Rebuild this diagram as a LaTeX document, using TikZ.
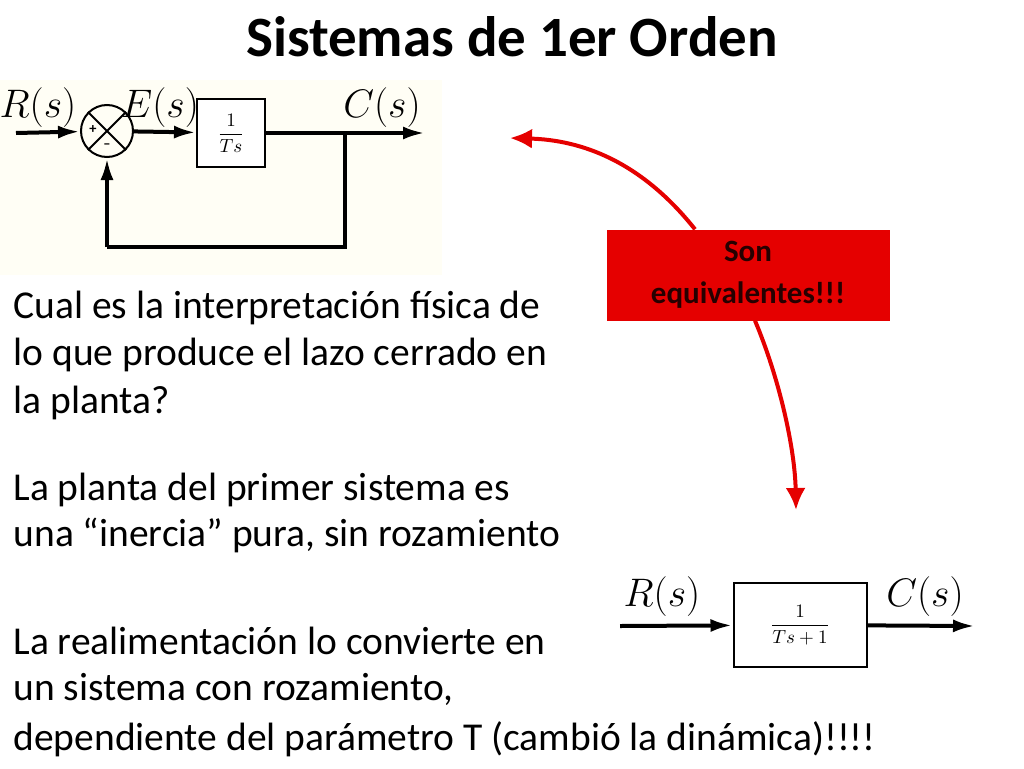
\documentclass[tikz,border=0pt]{standalone}
\usepackage{amsmath}
\usepackage{fontspec}
\setmainfont{Carlito}
\usetikzlibrary{arrows.meta}
\newcommand{\RC}[0]{red!90!black}
\begin{document}
\begin{tikzpicture}[x=1pt,y=-1pt]
  \tikzset{
    sig/.style={line width=4pt,-{Latex[length=22pt,width=13pt]}},
    wire/.style={line width=4pt},
    blk/.style={draw,line width=2pt,fill=white,inner sep=0pt},
    lab/.style={font=\fontsize{23}{23}\selectfont,scale=1.6,transform shape},
    frac/.style={scale=1.9,transform shape},
    body/.style={anchor=base west,font=\fontsize{39.5}{39.5}\selectfont},
    pointer/.style={draw=\RC,line width=4pt,-{Latex[length=22pt,width=20pt]}}
  }
  \useasboundingbox (0,0) rectangle (1024,768);

  \node[font=\fontsize{57}{57}\selectfont\bfseries] (title) at (512,37) {Sistemas de 1er Orden};

  %% first loop
  \fill[yellow!4] (0,80) rectangle (442,275);
  \node[draw,circle,line width=2pt,minimum size=52pt,inner sep=0pt] (sum) at (107,131) {};
  \draw[line width=2pt] (sum.45) -- (sum.225) (sum.135) -- (sum.315);
  \node[font=\Large\bfseries] (plus) at (93,130) {+};
  \node[font=\Large\bfseries] (minus) at (107,146) {--};
  \node[blk,minimum width=68pt,minimum height=68pt] (plant) at (231,133) {};
  \node[frac] (plantf) at (plant) {$\dfrac{1}{Ts}$};
  \coordinate (rin) at (16,133);
  \coordinate (cout) at (425,133);
  \coordinate (tap) at (345,133);
  \coordinate (low) at (345,247);
  \coordinate (lowl) at (107,247);
  \draw[sig] (rin) -- (sum);
  \draw[sig] (sum) -- (plant);
  \draw[sig] (plant) -- (cout);
  \draw[wire] (tap) -- (low) -- (lowl);
  \draw[sig] (lowl) -- (sum);
  \node[lab] (r1) at (38,108) {$R(s)$};
  \node[lab] (e1) at (160,108) {$E(s)$};
  \node[lab] (c1) at (382,108) {$C(s)$};

  %% equivalent block
  \node[blk,minimum width=133pt,minimum height=84pt] (plant2) at (800,625) {};
  \node[frac] (plant2f) at (plant2) {$\dfrac{1}{Ts+1}$};
  \coordinate (rin2) at (620,626);
  \coordinate (cout2) at (975,626);
  \draw[sig] (rin2) -- (plant2);
  \draw[sig] (plant2) -- (cout2);
  \node[lab] (r2) at (662,597) {$R(s)$};
  \node[lab] (c2) at (925,597) {$C(s)$};

  %% note
  \node[fill=\RC,minimum width=283pt,minimum height=91pt,align=center,
        font=\fontsize{31}{42}\selectfont\bfseries,text=black!85!red] (note) at (748,275)
    {Son\\equivalentes!!!};
  \coordinate (up) at (510,138);
  \coordinate (down) at (796,510);
  \draw[pointer] (note.north -| 695,0) .. controls (640,160) and (580,140) .. (up);
  \draw[pointer] (note.south -| 755,0) .. controls (780,380) and (795,450) .. (down);

  %% text
  \node[body] (q1) at (10,318) {Cual es la interpretación física de};
  \node[body] (q2) at (10,365) {lo que produce el lazo cerrado en};
  \node[body] (q3) at (10,413) {la planta?};
  \node[body] (a1) at (10,500) {La planta del primer sistema es};
  \node[body] (a2) at (10,546) {una “inercia” pura, sin rozamiento};
  \node[body] (b1) at (10,654) {La realimentación lo convierte en};
  \node[body] (b2) at (10,700) {un sistema con rozamiento,};
  \node[body] (b3) at (10,750) {dependiente del parámetro T (cambió la dinámica)!!!!};
\end{tikzpicture}
\end{document}
